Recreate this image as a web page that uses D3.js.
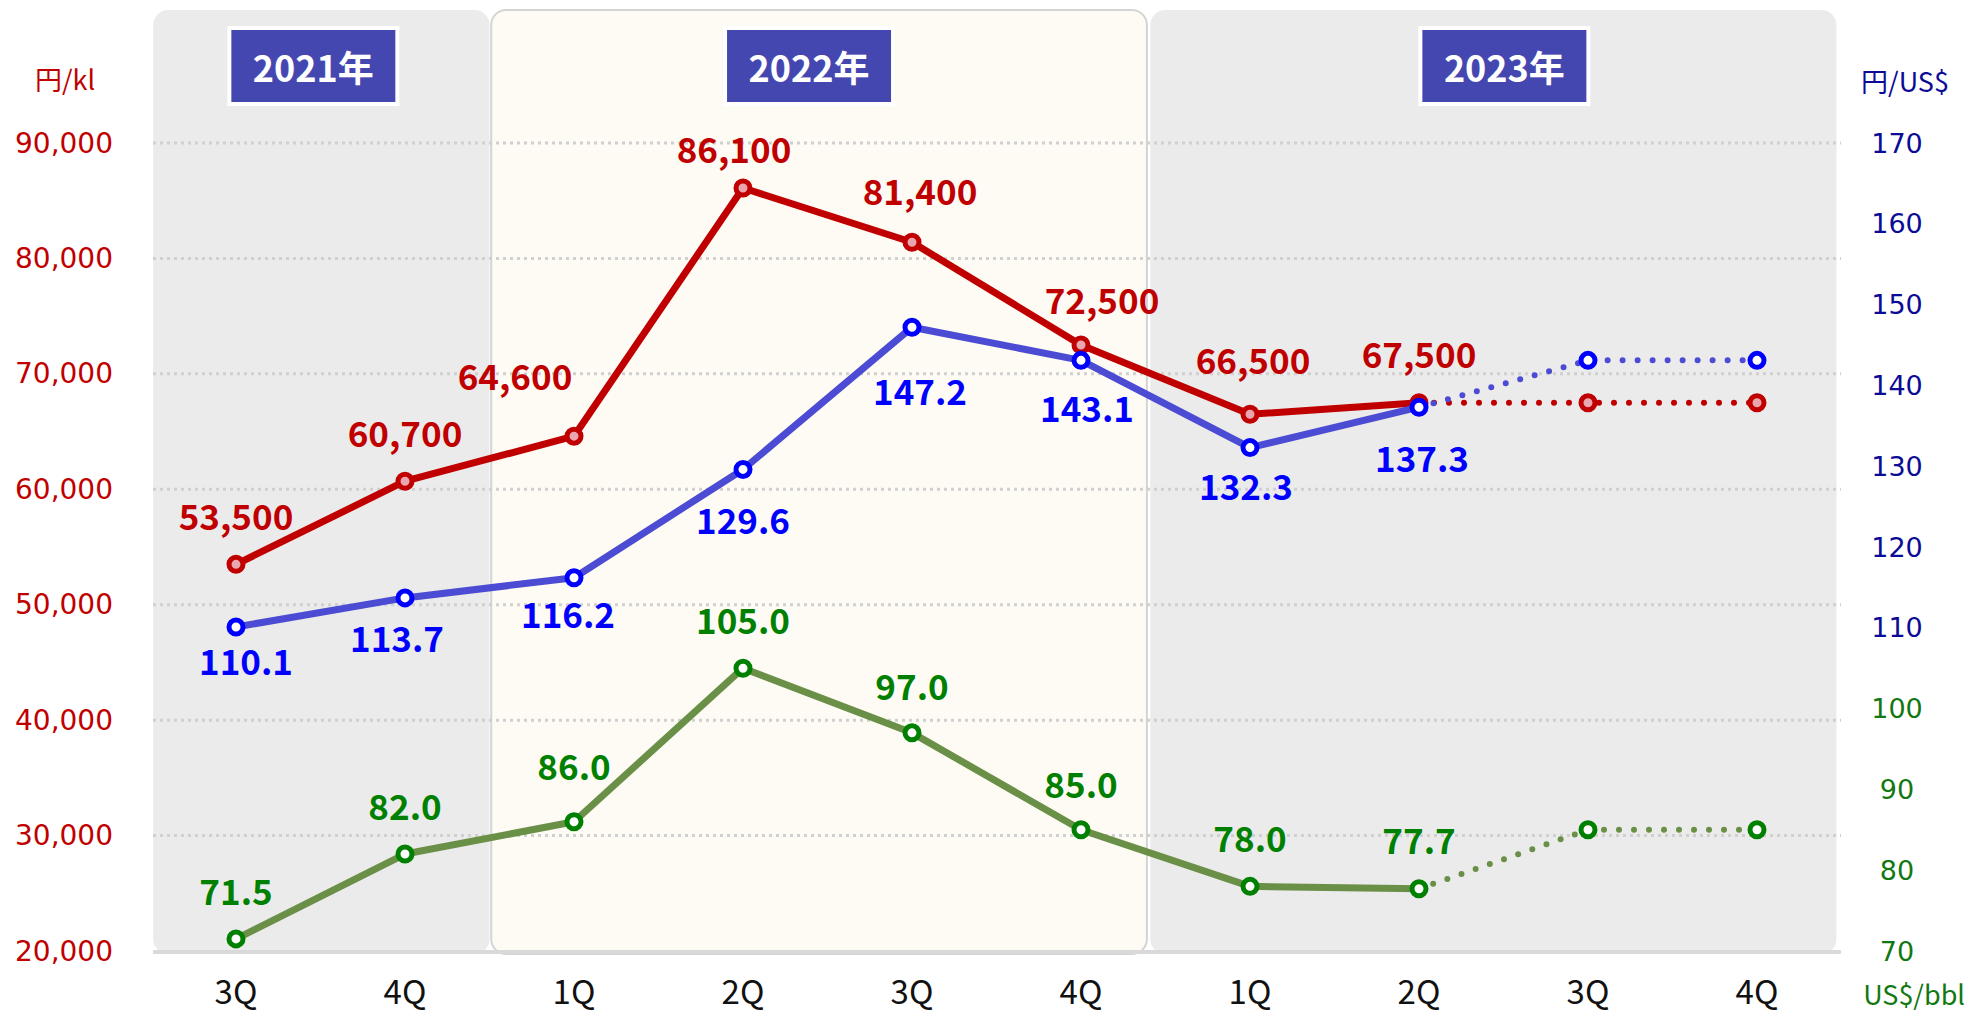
<!DOCTYPE html>
<html>
<head>
<meta charset="utf-8">
<script src="https://cdn.jsdelivr.net/npm/d3@7"></script>
<style>
  html, body { margin: 0; padding: 0; background: #fff; }
  svg { display: block; }
</style>
</head>
<body>
<div id="chart"></div>
<script>
// quarters on the x axis, grouped by year
const quarters = ["3Q", "4Q", "1Q", "2Q", "3Q", "4Q", "1Q", "2Q", "3Q", "4Q"];
const years = ["2021年", "2022年", "2023年"];

// actual values (2021 3Q .. 2023 2Q)
const fuelPrice = [53500, 60700, 64600, 86100, 81400, 72500, 66500, 67500]; // 円/kl
const fxRate = [110.1, 113.7, 116.2, 129.6, 147.2, 143.1, 132.3, 137.3];     // 円/US$
const crude = [71.5, 82.0, 86.0, 105.0, 97.0, 85.0, 78.0, 77.7];             // US$/bbl

// outlook for 2023 3Q, 4Q (dotted)
const fuelOutlook = [67500, 67500];
const fxOutlook = [143.1, 143.1];
const crudeOutlook = [85.0, 85.0];

const leftTicks = [20000, 30000, 40000, 50000, 60000, 70000, 80000, 90000];
const rightTicks = [70, 80, 90, 100, 110, 120, 130, 140, 150, 160, 170];

// layout tweaks (not data): year panel edges in quarter-index units, label nudges in px
const panelEdges = [[-0.49, 1.5], [1.51, 5.39], [5.41, 9.47]];
const boxShift = [-8, -10, 11];
const fuelNudge = [[0, -50], [0, -50], [-59, -62], [-9, -41], [8, -53], [21, -47], [3, -56], [0, -50]];
const fxNudge = [[10, 33], [-8, 39], [-6, 35], [0, 49], [8, 62], [6, 46], [-4, 37], [3, 49]];
const crudeNudge = [[0, -49], [0, -50], [0, -57], [0, -50], [0, -48], [0, -47], [0, -50], [0, -50]];

const width = 1970, height = 1018;
const plotTop = 143, plotBottom = 951;

const svg = d3.select("#chart").append("svg")
  .attr("width", width)
  .attr("height", height);

const x = d3.scaleLinear().domain([0, quarters.length - 1]).range([236, 1757]);
const yLeft = d3.scaleLinear().domain([20000, 90000]).range([plotBottom, plotTop]);
const yRight = d3.scaleLinear().domain([70, 170]).range([plotBottom, plotTop]);

const labelFont = "'Noto Sans CJK JP', 'Noto Sans', sans-serif";
const tickFont = "'DejaVu Sans', Verdana, sans-serif";

// year panels
const panels = svg.append("g").classed("panels", true);
panels.selectAll("rect")
  .data(panelEdges)
  .join("rect")
  .attr("x", d => x(d[0]))
  .attr("y", 10)
  .attr("width", d => x(d[1]) - x(d[0]))
  .attr("height", 944)
  .attr("rx", 15)
  .attr("fill", (d, i) => i === 1 ? "#fdfbf4" : "#ebebeb")
  .attr("stroke", (d, i) => i === 1 ? "#d4d4d4" : "none")
  .attr("stroke-width", 2);

// gridlines
svg.append("g").classed("grid", true)
  .selectAll("line")
  .data(leftTicks.slice(1))
  .join("line")
  .attr("x1", 153)
  .attr("x2", 1841)
  .attr("y1", d => yLeft(d))
  .attr("y2", d => yLeft(d))
  .attr("stroke", "#d0d0d0")
  .attr("stroke-width", 3)
  .attr("stroke-dasharray", "3,4");

// baseline
svg.append("line")
  .attr("x1", 153).attr("x2", 1841)
  .attr("y1", plotBottom + 1).attr("y2", plotBottom + 1)
  .attr("stroke", "#d9d9d9")
  .attr("stroke-width", 4);

// year boxes
const boxes = svg.append("g").classed("years", true)
  .selectAll("g")
  .data(years)
  .join("g")
  .attr("transform", (d, i) => {
    const cx = (x(panelEdges[i][0]) + x(panelEdges[i][1])) / 2 + boxShift[i];
    return `translate(${cx},66)`;
  });
boxes.append("rect")
  .attr("x", -84).attr("y", -38)
  .attr("width", 168).attr("height", 76)
  .attr("fill", "#4547b1")
  .attr("stroke", "#fff")
  .attr("stroke-width", 4);
boxes.append("text")
  .attr("text-anchor", "middle")
  .attr("dominant-baseline", "central")
  .attr("font-family", labelFont)
  .attr("font-weight", "bold")
  .attr("font-size", 36)
  .attr("fill", "#fff")
  .text(d => d);

// left axis labels
svg.append("g")
  .selectAll("text")
  .data(leftTicks)
  .join("text")
  .attr("x", 113)
  .attr("y", d => yLeft(d))
  .attr("text-anchor", "end")
  .attr("dominant-baseline", "central")
  .attr("font-family", tickFont)
  .attr("font-size", 28)
  .attr("fill", "#c00000")
  .text(d => d3.format(",")(d));

// right axis labels
svg.append("g")
  .selectAll("text")
  .data(rightTicks)
  .join("text")
  .attr("x", 1897)
  .attr("y", d => yRight(d))
  .attr("text-anchor", "middle")
  .attr("dominant-baseline", "central")
  .attr("font-family", tickFont)
  .attr("font-size", 27)
  .attr("fill", d => d >= 110 ? "#0b0b96" : "#127812")
  .text(d => d);

// x axis labels
svg.append("g")
  .selectAll("text")
  .data(quarters)
  .join("text")
  .attr("x", (d, i) => x(i))
  .attr("y", 990)
  .attr("text-anchor", "middle")
  .attr("dominant-baseline", "central")
  .attr("font-family", labelFont)
  .attr("font-size", 33)
  .attr("fill", "#111")
  .text(d => d);

// unit labels
const units = [
  { text: "円/kl", x: 65, y: 78, color: "#c00000", anchor: "middle" },
  { text: "円/US$", x: 1905, y: 80, color: "#0b0b96", anchor: "middle" },
  { text: "US$/bbl", x: 1965, y: 993, color: "#127812", anchor: "end" },
];
svg.append("g")
  .selectAll("text")
  .data(units)
  .join("text")
  .attr("x", d => d.x)
  .attr("y", d => d.y)
  .attr("text-anchor", d => d.anchor)
  .attr("dominant-baseline", "central")
  .attr("font-family", labelFont)
  .attr("font-size", 27)
  .attr("fill", d => d.color)
  .text(d => d.text);

// series
const series = [
  { values: fuelPrice, outlook: fuelOutlook, scale: yLeft, line: "#c00000", marker: "#c00000",
    fill: "#eaa6ae", label: "#c00000", fmt: d3.format(","), nudge: fuelNudge },
  { values: fxRate, outlook: fxOutlook, scale: yRight, line: "#4b4bd3", marker: "#0000ff",
    fill: "#fff", label: "#0000ff", fmt: d3.format(".1f"), nudge: fxNudge },
  { values: crude, outlook: crudeOutlook, scale: yRight, line: "#6a8f47", marker: "#008000",
    fill: "#fff", label: "#008000", fmt: d3.format(".1f"), nudge: crudeNudge },
];

const lineGen = d3.line().x(d => x(d.i)).y(d => d.y);

series.forEach(s => {
  const g = svg.append("g");
  const actual = s.values.map((v, i) => ({ i, v, y: s.scale(v) }));
  const last = actual[actual.length - 1];
  const future = [last].concat(s.outlook.map((v, k) => ({ i: s.values.length + k, v, y: s.scale(v) })));

  g.append("path")
    .attr("d", lineGen(future))
    .attr("fill", "none")
    .attr("stroke", s.line)
    .attr("stroke-width", 6)
    .attr("stroke-linecap", "round")
    .attr("stroke-dasharray", "0,15");

  g.append("path")
    .attr("d", lineGen(actual))
    .attr("fill", "none")
    .attr("stroke", s.line)
    .attr("stroke-width", 7)
    .attr("stroke-linejoin", "round");

  g.selectAll("circle")
    .data(actual.concat(future.slice(1)))
    .join("circle")
    .attr("cx", d => x(d.i))
    .attr("cy", d => d.y)
    .attr("r", 7)
    .attr("fill", s.fill)
    .attr("stroke", s.marker)
    .attr("stroke-width", 5);

  g.selectAll("text")
    .data(actual)
    .join("text")
    .attr("x", d => x(d.i) + s.nudge[d.i][0])
    .attr("y", d => d.y + s.nudge[d.i][1])
    .attr("text-anchor", "middle")
    .attr("dominant-baseline", "central")
    .attr("font-family", labelFont)
    .attr("font-weight", "bold")
    .attr("font-size", 35)
    .attr("fill", s.label)
    .text(d => s.fmt(d.v));
});
</script>
</body>
</html>
